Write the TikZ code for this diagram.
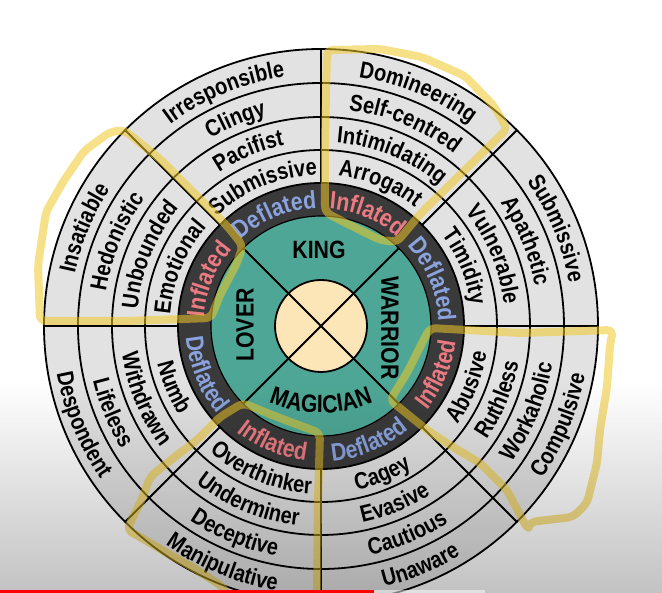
\documentclass[tikz,border=0pt]{standalone}
\usepackage{fontspec}
\setmainfont{Liberation Sans}[FakeStretch=0.85]
\usetikzlibrary{decorations.text,fadings}

\definecolor{ringgray}{RGB}{226,226,226}
\definecolor{darkring}{RGB}{58,58,58}
\definecolor{tealfill}{RGB}{78,167,150}
\definecolor{cream}{RGB}{252,229,182}
\definecolor{Inflated}{RGB}{236,122,130}
\definecolor{Deflated}{RGB}{138,162,222}
\definecolor{hiyellow}{RGB}{240,200,40}

\newcommand{\wordfont}{\fontsize{23.5}{23.5}\selectfont\bfseries}
\newcommand{\tagfont}{\fontsize{25}{25}\selectfont\bfseries}
\newcommand{\archfont}{\fontsize{25}{25}\selectfont\bfseries}

% word on an arc, tops outward (clockwise)
\newcommand{\wordout}[5]{\path[decorate,decoration={text along path,text align=center,text color=#4,text={|#3|#5}}]
  ({#1+55}:#2pt) arc[start angle={#1+55},end angle={#1-10},radius=#2pt];}
% word on an arc, tops inward (anticlockwise)
\newcommand{\wordin}[5]{\path[decorate,decoration={text along path,text align=center,text color=#4,text={|#3|#5}}]
  ({#1-10}:#2pt) arc[start angle={#1-10},end angle={#1+55},radius=#2pt];}

\begin{document}
\begin{tikzpicture}[x=1pt,y=1pt,
  ringline/.style={line width=1.8pt},
  archetype/.style={font=\archfont,inner sep=0pt},
  highlight/.style={hiyellow,opacity=.55,line width=8pt,line cap=round,line join=round,rounded corners=6pt}]
\useasboundingbox (-321,-267) rectangle (341,326);
\fill[white] (-321,-267) rectangle (341,326);

% discs
\fill[ringgray] (0,0) circle[radius=277pt];
\fill[darkring] (0,0) circle[radius=143pt];
\filldraw[fill=tealfill,draw=black,line width=1.2pt] (0,0) circle[radius=110pt];
\filldraw[fill=cream,draw=black,ringline] (0,0) circle[radius=46pt];

% rings and spokes
\foreach \r in {143,176,209,243,277}
  \draw[ringline] (0,0) circle[radius=\r pt];
\foreach \t in {0,45,...,315}
  \draw[ringline] (\t:143pt) -- (\t:277pt);
\foreach \t in {45,135,225,315}
  \draw[ringline] (0,0) -- (\t:110pt);

% upper half: tops outward
\foreach \a/\tagname/\wone/\wtwo/\wthree/\wfour in {
  90/Deflated/Submissive/Pacifist/Clingy/Irresponsible,
  45/Inflated/Arrogant/Intimidating/Self-centred/Domineering,
  0/Deflated/Timidity/Vulnerable/Apathetic/Submissive,
  135/Inflated/Emotional/Unbounded/Hedonistic/Insatiable}{
  \edef\mkwords{\noexpand\wordout{\a}{117.5}{\noexpand\tagfont}{\tagname}{\tagname}
    \noexpand\wordout{\a}{151.1}{\noexpand\wordfont}{black}{\wone}
    \noexpand\wordout{\a}{184.1}{\noexpand\wordfont}{black}{\wtwo}
    \noexpand\wordout{\a}{217.6}{\noexpand\wordfont}{black}{\wthree}
    \noexpand\wordout{\a}{251.6}{\noexpand\wordfont}{black}{\wfour}}\mkwords
}
% lower half: tops inward
\foreach \a/\tagname/\wone/\wtwo/\wthree/\wfour in {
  -45/Inflated/Abusive/Ruthless/Workaholic/Compulsive,
  270/Deflated/Cagey/Evasive/Cautious/Unaware,
  225/Inflated/Overthinker/Underminer/Deceptive/Manipulative,
  180/Deflated/Numb/Withdrawn/Lifeless/Despondent}{
  \edef\mkwords{\noexpand\wordin{\a}{135.5}{\noexpand\tagfont}{\tagname}{\tagname}
    \noexpand\wordin{\a}{167.9}{\noexpand\wordfont}{black}{\wone}
    \noexpand\wordin{\a}{200.9}{\noexpand\wordfont}{black}{\wtwo}
    \noexpand\wordin{\a}{234.4}{\noexpand\wordfont}{black}{\wthree}
    \noexpand\wordin{\a}{268.4}{\noexpand\wordfont}{black}{\wfour}}\mkwords
}

% the four archetypes
\node[archetype] (king) at (-2,76) {KING};
\node[archetype,rotate=-90] (warrior) at (69,-2) {WARRIOR};
\node[archetype,rotate=90] (lover) at (-76,1) {LOVER};
\path[decorate,decoration={text along path,text align=center,text={|\archfont|MAGICIAN}}]
  (0,48) ++(235:135pt) arc[start angle=235,end angle=305,radius=135pt];

% hand drawn marks (pixel frame)
\begin{scope}[shift={(-321,326)},yscale=-1]
\draw[highlight] (327,50) -- (380,49) -- (422,57) -- (465,76) -- (494,106) -- (507,129)
  -- (465,170) -- (422,212) -- (397,242) -- (380,240) -- (338,219) -- (325,212) -- (325,140) -- cycle;
\draw[highlight] (211,318) -- (127,321) -- (40,321) -- (38,265) -- (46,212) -- (63,182) -- (84,151)
  -- (110,132) -- (124,130) -- (160,159) -- (198,197) -- (228,227) -- (243,246) -- (236,265) -- (220,295) -- cycle;
\draw[highlight] (430,328) -- (520,333) -- (613,330) -- (610,345) -- (607,387) -- (600,430) -- (597,463)
  -- (587,503) -- (573,517) -- (530,522) -- (528,530) -- (507,490) -- (480,463) -- (453,447) -- (427,430)
  -- (390,400) -- (407,373) -- (420,347) -- cycle;
\draw[highlight] (227,593) -- (223,587) -- (197,570) -- (167,553) -- (140,537) -- (127,530) -- (133,517)
  -- (143,497) -- (150,477) -- (167,463) -- (197,440) -- (220,417) -- (243,403) -- (267,413) -- (293,423)
  -- (320,433) -- (318,500) -- (317,593);
\end{scope}

% player shading and progress bar
\fill[black,opacity=.24,path fading=north] (-321,-267) rectangle (341,-55);
\fill[red] (-321,-267) rectangle (53,-264);
\fill[white,opacity=.5] (53,-267) rectangle (164,-264);
\end{tikzpicture}
\end{document}
